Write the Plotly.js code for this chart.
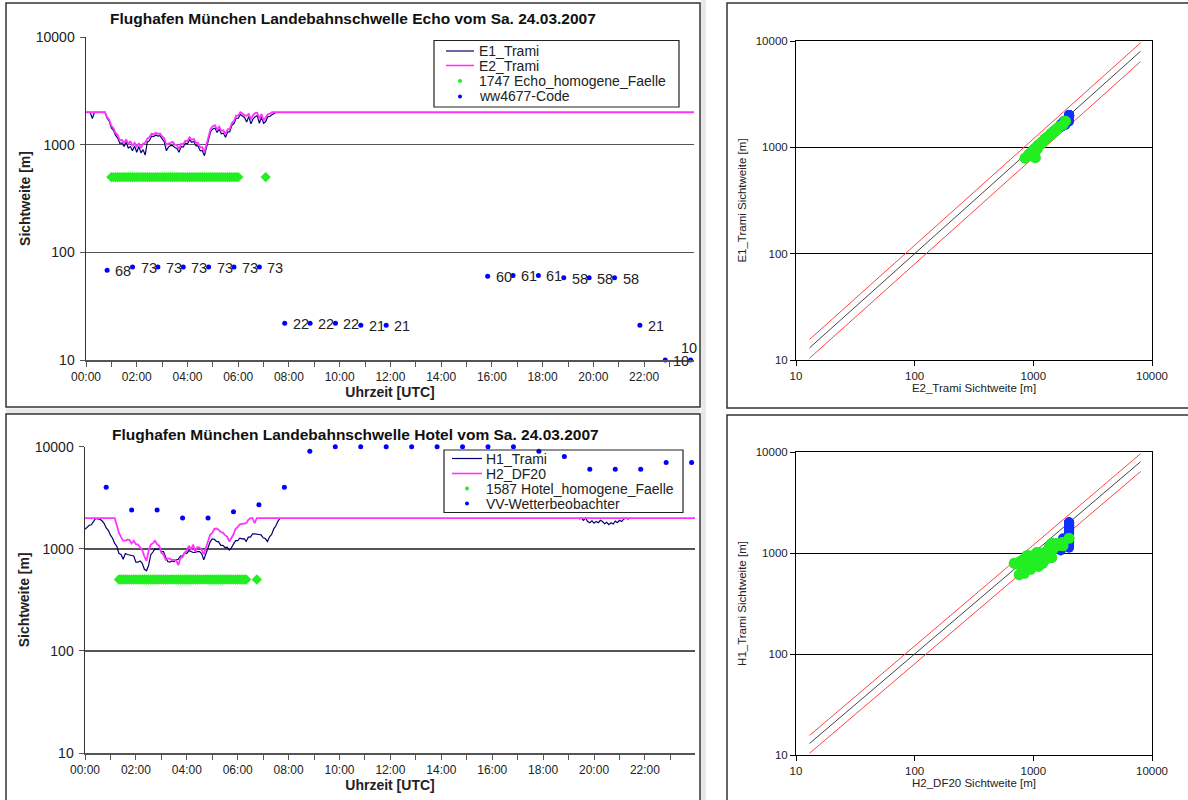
<!DOCTYPE html>
<html><head><meta charset="utf-8">
<script src="https://cdn.plot.ly/plotly-3.0.1.min.js"></script>
<style>html,body{margin:0;padding:0;background:#fff}#chart{width:1188px;height:800px}</style>
</head><body><div id="chart"></div>
<script>
// ---------------- DATA ----------------
const chartDate = "2007-03-24";
const echoTitle = "Flughafen München Landebahnschwelle Echo vom Sa. 24.03.2007";
const hotelTitle = "Flughafen München Landebahnschwelle Hotel vom Sa. 24.03.2007";
const echoLegendLabels = ["E1_Trami", "E2_Trami", "1747 Echo_homogene_Faelle", "ww4677-Code"];
const hotelLegendLabels = ["H1_Trami", "H2_DF20", "1587 Hotel_homogene_Faelle", "VV-Wetterbeobachter"];
const scatterTitlesEcho = {x: "E2_Trami Sichtweite [m]", y: "E1_Trami Sichtweite [m]"};
const scatterTitlesHotel = {x: "H2_DF20 Sichtweite [m]", y: "H1_Trami Sichtweite [m]"};
const timeAxisTitle = "Uhrzeit [UTC]";
const visAxisTitle = "Sichtweite [m]";
const logTickVals = [10, 100, 1000, 10000];
const logTickText = ["10", "100", "1000", "10000"];
const homogLevel = 500;              // level at which homogeneous cases are marked
const refLineEnds = [13, 8000];      // extent of the reference diagonals
const refFactors = [0.8, 1.0, 1.2];  // 1:1 line and +/-20 % band

const echoTimes = [
"00:00","00:05","00:10","00:15","00:20","00:25","00:30","00:35","00:40","00:45","00:50","00:55",
"01:00","01:05","01:10","01:15","01:20","01:25","01:30","01:35","01:40","01:45","01:50","01:55",
"02:00","02:05","02:10","02:15","02:20","02:25","02:30","02:35","02:40","02:45","02:50","02:55",
"03:00","03:05","03:10","03:15","03:20","03:25","03:30","03:35","03:40","03:45","03:50","03:55",
"04:00","04:05","04:10","04:15","04:20","04:25","04:30","04:35","04:40","04:45","04:50","04:55",
"05:00","05:05","05:10","05:15","05:20","05:25","05:30","05:35","05:40","05:45","05:50","05:55",
"06:00","06:05","06:10","06:15","06:20","06:25","06:30","06:35","06:40","06:45","06:50","06:55",
"07:00","07:05","07:10","07:15","07:20","07:25","07:30",
"23:59"];
const e1Vis = [
2000,2000,2000,1750,2000,2000,2000,2000,2000,2000,1760,1650,
1430,1360,1220,1150,1030,1040,960,1060,930,960,880,970,
850,960,840,900,800,1060,1090,1200,1190,1230,1200,1210,
1130,1070,880,950,980,980,940,920,850,960,950,1030,
1020,1110,1050,1070,980,970,880,880,790,930,1070,1330,
1400,1430,1300,1390,1260,1280,1170,1310,1320,1510,1570,1760,
1760,1910,1850,1790,1620,1830,1560,1730,1820,1860,1580,1800,
1580,1640,1820,1830,1900,1960,2000,
null];
const e2Vis = [
2000,2000,2000,2000,2000,2000,2000,2000,2000,2000,1800,1700,
1500,1420,1280,1230,1090,1110,1040,1120,1010,1080,970,1040,
960,1030,930,1020,1040,1140,1170,1260,1250,1290,1260,1270,
1190,1150,1000,1020,1040,1060,1000,990,910,1020,1010,1090,
1080,1170,1110,1130,1040,1040,940,950,850,1010,1150,1410,
1490,1510,1390,1470,1340,1360,1250,1390,1400,1590,1660,1860,
1860,2000,1950,1880,1860,1930,1720,1880,1960,1980,1740,1920,
1680,1780,1920,1930,2000,2000,2000,
2000];
const echoHomog = [
0,0,0,0,0,0,0,0,0,0,0,0,
1,1,1,1,1,1,1,1,1,1,1,1,
1,1,1,1,1,1,1,1,1,1,1,1,
1,1,1,1,1,1,1,1,1,1,1,1,
1,1,1,1,1,1,1,1,1,1,1,1,
1,1,1,1,1,1,1,1,1,1,1,1,
1,0,0,0,0,0,0,0,0,0,0,0,
0,1,0,0,0,0,0,
0];
const codeTimes = ["00:50","01:50","02:50","03:50","04:50","05:50","06:50","07:50","08:50","09:50","10:50","11:50",
                   "15:50","16:50","17:50","18:50","19:50","20:50","21:50","22:50","23:50"];
const codeVals = [68,73,73,73,73,73,73,22,22,22,21,21,60,61,61,58,58,58,21,10,10];

const hotelTimes = [
"00:00","00:05","00:10","00:15","00:20","00:25","00:30","00:35","00:40","00:45","00:50","00:55",
"01:00","01:05","01:10","01:15","01:20","01:25","01:30","01:35","01:40","01:45","01:50","01:55",
"02:00","02:05","02:10","02:15","02:20","02:25","02:30","02:35","02:40","02:45","02:50","02:55",
"03:00","03:05","03:10","03:15","03:20","03:25","03:30","03:35","03:40","03:45","03:50","03:55",
"04:00","04:05","04:10","04:15","04:20","04:25","04:30","04:35","04:40","04:45","04:50","04:55",
"05:00","05:05","05:10","05:15","05:20","05:25","05:30","05:35","05:40","05:45","05:50","05:55",
"06:00","06:05","06:10","06:15","06:20","06:25","06:30","06:35","06:40","06:45","06:50","06:55",
"07:00","07:05","07:10","07:15","07:20","07:25","07:30","07:35","07:40","07:45",
"19:25","19:30","19:35","19:40","19:45","19:50","19:55",
"20:00","20:05","20:10","20:15","20:20","20:25","20:30","20:35","20:40","20:45","20:50","20:55",
"21:00","21:05","21:10","21:15","21:20","21:25",
"23:59"];
const h1Vis = [
1550,1640,1700,1720,1830,1980,1960,1950,1880,1780,1600,1520,
1360,1270,1130,1060,900,880,790,900,880,870,860,850,
740,740,760,720,630,610,690,870,930,1000,980,1010,
940,940,830,750,740,760,750,780,790,850,850,920,
900,960,940,920,920,940,940,900,780,890,980,1170,
1250,1240,1180,1170,1080,1080,1030,1040,970,1020,1110,1200,
1200,1270,1250,1260,1180,1300,1300,1400,1400,1400,1380,1370,
1280,1260,1180,1310,1380,1570,1680,1870,2000,null,
1950,2000,1900,2000,1850,1800,1880,
1780,1850,1800,1900,1850,1760,1820,1720,1800,1750,1870,1800,
1900,1850,1950,2000,1950,2000,
null];
const h2Vis = [
2000,2000,2000,2000,2000,2000,2000,2000,2000,2000,2000,2000,
2000,2000,2000,1700,1430,1300,1200,1200,1230,1220,1130,1200,
1110,1100,1020,970,840,760,950,1100,1130,1200,1110,1070,
910,880,780,800,800,780,780,770,690,810,830,920,
960,1070,980,1100,930,1040,1030,980,880,1020,1130,1370,
1430,1570,1580,1540,1460,1440,1360,1320,1180,1270,1380,1570,
1630,1740,1760,1770,1780,1920,2000,2000,1780,2000,2000,2000,
2000,2000,2000,2000,2000,2000,2000,2000,2000,2000,
2000,2000,2000,2000,2000,2000,2000,
2000,2000,2000,2000,2000,2000,2000,2000,2000,2000,2000,2000,
2000,2000,2000,2000,2000,2000,
2000];
const hotelHomog = [
0,0,0,0,0,0,0,0,0,0,0,0,
0,0,0,0,1,1,1,1,1,1,1,1,
1,1,1,1,1,1,1,1,1,1,1,1,
1,1,1,1,1,1,1,1,1,1,1,1,
1,1,1,1,1,1,1,1,1,1,1,1,
1,1,1,1,1,1,1,1,1,1,1,1,
1,1,1,1,1,0,0,0,0,1,0,0,
0,0,0,0,0,0,0,0,0,0,
0,0,0,0,0,0,0,
0,0,0,0,0,0,0,0,0,0,0,0,
0,0,0,0,0,0,
0];
const vvTimes = ["00:50","01:50","02:50","03:50","04:50","05:50","06:50","07:50","08:50","09:50","10:50","11:50",
                 "12:50","13:50","14:50","15:50","16:50","17:50","18:50","19:50","20:50","21:50","22:50","23:50"];
const vvVals = [4000,2400,2400,2000,2000,2300,2700,4000,9000,10000,10000,10000,
                10000,10000,10000,10000,10000,9000,8000,6000,6000,6000,7000,7000];

// ---------------- CHECKS ----------------
[[echoTimes,e1Vis,e2Vis,echoHomog],[hotelTimes,h1Vis,h2Vis,hotelHomog]].forEach(g=>{
  const n=g[0].length; g.forEach(a=>{ if(a.length!==n) throw new Error("length mismatch "+a.length+" vs "+n); });
});

// ---------------- BUILD ----------------
const W = 1188, H = 800;
const FONT = "Liberation Sans, Arial, sans-serif";
const NAVY = "#000070", PINK = "#ff33ff", GREEN = "#22ee22", BLUE = "#0000ff";
const T = t => chartDate + " " + t;
const px = x => x / W, py = y => 1 - y / H;

function homogPoints(times, flags) {
  const x = [], y = [];
  times.forEach((t, i) => { if (flags[i]) { x.push(T(t)); y.push(homogLevel); } });
  return {x, y};
}
function pairs(xs, ys, flags, onlyHomog) {
  const x = [], y = [];
  xs.forEach((v, i) => {
    if (v == null || ys[i] == null) return;
    if (onlyHomog && !flags[i]) return;
    x.push(v); y.push(ys[i]);
  });
  return {x, y};
}

const traces = [];
const annotations = [];
function timePanel(xa, ya, times, v1, v2, flags, ptTimes, ptVals, withText) {
  traces.push({x: times.map(T), y: v1, xaxis: xa, yaxis: ya, type: "scatter", mode: "lines",
    line: {color: NAVY, width: 1.2}, connectgaps: false, hoverinfo: "skip"});
  traces.push({x: times.map(T), y: v2, xaxis: xa, yaxis: ya, type: "scatter", mode: "lines",
    line: {color: PINK, width: 1.8}, connectgaps: false, hoverinfo: "skip"});
  const hp = homogPoints(times, flags);
  traces.push({x: hp.x, y: hp.y, xaxis: xa, yaxis: ya, type: "scatter", mode: "markers",
    marker: {color: GREEN, size: 8, symbol: "diamond"}, hoverinfo: "skip"});
  traces.push({x: ptTimes.map(T), y: ptVals, xaxis: xa, yaxis: ya, type: "scatter", mode: "markers",
    marker: {color: BLUE, size: 5}, cliponaxis: false, hoverinfo: "skip"});
  if (withText) {
    const last = ptTimes.length - 1;
    ptTimes.forEach((t, i) => {
      const isLast = i === last;
      annotations.push({xref: xa, yref: ya, x: T(t), y: Math.log10(ptVals[i]), text: String(ptVals[i]),
        showarrow: false, xanchor: isLast ? "center" : "left", yanchor: isLast ? "bottom" : "middle",
        xshift: isLast ? -2 : 6, yshift: isLast ? 2 : -1,
        font: {family: FONT, size: 14.5, color: "#222"}});
    });
  }
}
function scatterPanel(xa, ya, xs, ys, flags) {
  refFactors.forEach(f => {
    traces.push({x: refLineEnds, y: refLineEnds.map(v => v * f), xaxis: xa, yaxis: ya, type: "scatter",
      mode: "lines", line: {color: f === 1 ? "#444" : "#ff4444", width: 1}, hoverinfo: "skip"});
  });
  const all = pairs(xs, ys, flags, false);
  traces.push({x: all.x, y: all.y, xaxis: xa, yaxis: ya, type: "scatter", mode: "markers",
    marker: {color: "#1030ff", size: 10}, hoverinfo: "skip"});
  const hom = pairs(xs, ys, flags, true);
  traces.push({x: hom.x, y: hom.y, xaxis: xa, yaxis: ya, type: "scatter", mode: "markers",
    marker: {color: GREEN, size: 11}, hoverinfo: "skip"});
}

timePanel("x", "y", echoTimes, e1Vis, e2Vis, echoHomog, codeTimes, codeVals, true);
scatterPanel("x2", "y2", e2Vis, e1Vis, echoHomog);
timePanel("x3", "y3", hotelTimes, h1Vis, h2Vis, hotelHomog, vvTimes, vvVals, false);
scatterPanel("x4", "y4", h2Vis, h1Vis, hotelHomog);

function timeX(domain, anchor) {
  return {type: "date", domain, anchor, range: [T("00:00"), T("23:58")],
    tickformat: "%H:%M", dtick: 7200000, tick0: T("00:00"), ticks: "outside", ticklen: 5,
    tickcolor: "#555", showline: true, linecolor: "#555", linewidth: 1.5, showgrid: false, zeroline: false,
    minor: {dtick: 3600000, ticks: "outside", ticklen: 5, tickcolor: "#555", showgrid: false},
    tickfont: {family: FONT, size: 12, color: "#222"}, ticklabelstandoff: 0,
    title: {text: timeAxisTitle, font: {family: FONT, size: 14, weight: "bold", color: "#222"}, standoff: 0}};
}
function logY(domain, anchor) {
  return {type: "log", domain, anchor, range: [1, 4], tickvals: logTickVals, ticktext: logTickText,
    ticks: "outside", ticklen: 5, tickcolor: "#555", showgrid: true, gridcolor: "#555", gridwidth: 1.5,
    showline: true, linecolor: "#333", linewidth: 1.5, zeroline: false,
    tickfont: {family: FONT, size: 14, color: "#222"}, ticklabelstandoff: 2,
    title: {text: visAxisTitle, font: {family: FONT, size: 14, weight: "bold", color: "#222"}, standoff: 2}};
}
function scatterAxis(domain, anchor, title, isY) {
  return {type: "log", domain, anchor, range: [1, 4], tickvals: logTickVals, ticktext: logTickText,
    ticks: "outside", ticklen: 5, tickcolor: "#000", showline: true, mirror: true, linecolor: "#000", linewidth: 1,
    showgrid: isY, gridcolor: "#000", gridwidth: 1, zeroline: false,
    tickfont: {family: FONT, size: 11.5, color: "#222"},
    title: {text: title, font: {family: FONT, size: 11.5, color: "#222"}, standoff: isY ? 6 : 3}};
}

const shapes = [];
function rectPx(x0, y0, x1, y1, color, width, fill) {
  shapes.push({type: "rect", xref: "paper", yref: "paper", x0: px(x0), x1: px(x1), y0: py(y1), y1: py(y0),
    line: {color: color, width: width}, fillcolor: fill || "rgba(0,0,0,0)", layer: "above"});
}
// page gaps
shapes.push({type: "rect", xref: "paper", yref: "paper", x0: px(701), x1: px(706), y0: 0, y1: 1,
  line: {width: 0}, fillcolor: "#e8e8e8", layer: "below"});
shapes.push({type: "rect", xref: "paper", yref: "paper", x0: px(6), x1: px(700), y0: py(413.5), y1: py(408.5),
  line: {width: 0}, fillcolor: "#e8e8e8", layer: "below"});
// panel frames
rectPx(6, 3, 700, 407, "#333", 1.5);
rectPx(727, 3, 1195, 408, "#333", 1.5);
rectPx(6, 414, 700, 805, "#333", 1.5);
rectPx(727, 415, 1195, 805, "#333", 1.5);

function manualLegend(box, lineX0, lineX1, textX, rows, labels) {
  rectPx(box[0], box[1], box[2], box[3], "#222", 1.2);
  const styles = [{line: NAVY}, {line: PINK}, {dot: GREEN}, {dot: BLUE}];
  labels.forEach((lab, i) => {
    const y = rows[i], s = styles[i];
    if (s.line) {
      shapes.push({type: "line", xref: "paper", yref: "paper", x0: px(lineX0), x1: px(lineX1), y0: py(y), y1: py(y),
        line: {color: s.line, width: i === 1 ? 1.6 : 1.2}, layer: "above"});
    } else {
      const cx = (lineX0 + lineX1) / 2, r = 2;
      shapes.push({type: "circle", xref: "paper", yref: "paper", x0: px(cx - r), x1: px(cx + r),
        y0: py(y + r), y1: py(y - r), line: {width: 0}, fillcolor: s.dot, layer: "above"});
    }
    annotations.push({xref: "paper", yref: "paper", x: px(textX), y: py(y), xanchor: "left", yanchor: "middle",
      text: lab, showarrow: false, font: {family: FONT, size: 14, color: "#222"}});
  });
}
manualLegend([434, 40.5, 679, 107], 446, 474, 477, [51, 65.5, 81, 96.5], echoLegendLabels);
manualLegend([444, 450, 683, 512.5], 452, 482, 484, [458.5, 473.5, 488.5, 503.5], hotelLegendLabels);

annotations.push({xref: "paper", yref: "paper", x: px(353), y: py(18.5), xanchor: "center", yanchor: "middle",
  text: echoTitle, showarrow: false, font: {family: FONT, size: 15.5, weight: "bold", color: "#111"}});
annotations.push({xref: "paper", yref: "paper", x: px(355), y: py(434), xanchor: "center", yanchor: "middle",
  text: hotelTitle, showarrow: false, font: {family: FONT, size: 15.5, weight: "bold", color: "#111"}});

const layout = {
  width: W, height: H, margin: {l: 0, r: 0, t: 0, b: 0}, showlegend: false,
  paper_bgcolor: "#fff", plot_bgcolor: "#fff", font: {family: FONT, color: "#222"},
  xaxis: timeX([px(86), px(694)], "y"),
  yaxis: logY([py(360), py(37)], "x"),
  xaxis2: scatterAxis([px(796), px(1152)], "y2", scatterTitlesEcho.x, false),
  yaxis2: scatterAxis([py(360), py(41)], "x2", scatterTitlesEcho.y, true),
  xaxis3: timeX([px(85), px(695)], "y3"),
  yaxis3: logY([py(753), py(446.7)], "x3"),
  xaxis4: scatterAxis([px(796), px(1152)], "y4", scatterTitlesHotel.x, false),
  yaxis4: scatterAxis([py(755), py(452)], "x4", scatterTitlesHotel.y, true),
  shapes, annotations
};
Plotly.newPlot("chart", traces, layout, {displayModeBar: false, staticPlot: true});
</script>
</body></html>
